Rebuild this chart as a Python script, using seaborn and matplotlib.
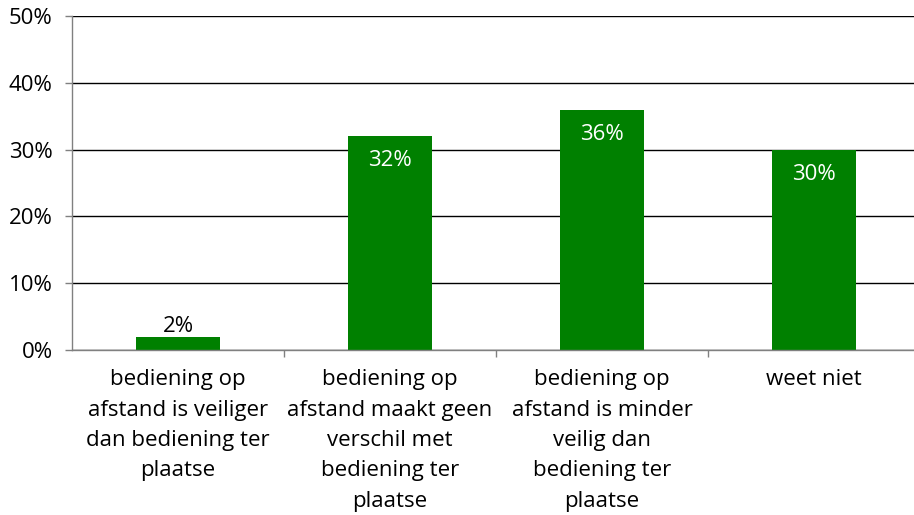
import matplotlib
matplotlib.use("Agg")
import matplotlib.pyplot as plt
import seaborn as sns
import pandas as pd

categories = [
    "bediening op\nafstand is veiliger\ndan bediening ter\nplaatse",
    "bediening op\nafstand maakt geen\nverschil met\nbediening ter\nplaatse",
    "bediening op\nafstand is minder\nveilig dan\nbediening ter\nplaatse",
    "weet niet",
]
values = [2, 32, 36, 30]
y_ticks = [0, 10, 20, 30, 40, 50]

sns.set_theme(style="white")
plt.rcParams["font.family"] = ["Open Sans", "DejaVu Sans"]

FS = 16

df = pd.DataFrame({"categorie": categories, "percentage": values})

fig = plt.figure(figsize=(9.14, 5.15), dpi=100)
ax = fig.add_axes([72 / 914, 1 - 350 / 515, 848 / 914, 334 / 515])

sns.barplot(data=df, x="categorie", y="percentage", color="#008000",
            saturation=1, width=0.4, linewidth=0, ax=ax)

ax.set_ylim(0, 50)
ax.set_xlim(-0.5, len(categories) - 0.5)
ax.set_yticks(y_ticks)
ax.set_yticklabels([f"{t}%" for t in y_ticks], fontsize=FS, color="black")
ax.yaxis.grid(True, color="black", linewidth=1)
ax.set_axisbelow(True)

# tick marks between categories, labels centered under bars
ax.set_xticks([i + 0.5 for i in range(len(categories) - 1)])
ax.set_xticklabels([])
ax.set_xticks(range(len(categories)), minor=True)
ax.set_xticklabels(categories, minor=True, fontsize=FS, color="black",
                   linespacing=1.58, va="top")
ax.tick_params(axis="x", which="major", direction="out", length=5,
               color="#808080", width=1, bottom=True)
ax.tick_params(axis="x", which="minor", length=0, pad=14)
ax.tick_params(axis="y", direction="out", length=5, color="#808080",
               width=1, left=True, pad=9)

ax.set_xlabel("")
ax.set_ylabel("")
for side in ["top", "right"]:
    ax.spines[side].set_visible(False)
ax.spines["left"].set_color("#808080")
ax.spines["bottom"].set_color("#808080")
ax.spines["left"].set_linewidth(1)
ax.spines["bottom"].set_linewidth(1)

for i, v in enumerate(values):
    if v < 5:
        ax.text(i, v + 0.75, f"{v}%", ha="center", va="baseline",
                fontsize=FS, color="black")
    else:
        ax.text(i, v - 2.1, f"{v}%", ha="center", va="top",
                fontsize=FS, color="white")

fig.savefig("out.png", dpi=100)
